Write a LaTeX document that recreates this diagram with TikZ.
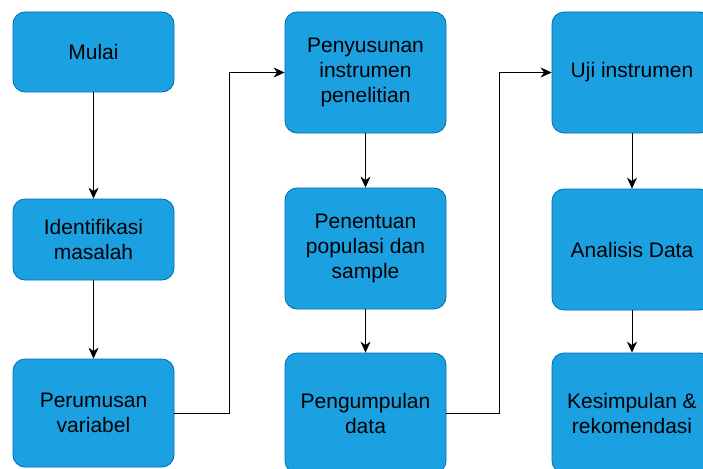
\documentclass[tikz,border=0pt]{standalone}
\usepackage{fontspec}
\setmainfont{Liberation Sans}
\usetikzlibrary{arrows.meta,positioning}

\definecolor{boxfill}{HTML}{1BA1E2}
\definecolor{boxline}{HTML}{006EAF}

\tikzset{
stepbox/.style={draw=boxline, fill=boxfill, line width=0.8pt,
  rounded corners=12pt, minimum width=161pt, minimum height=121pt,
  align=center, text=black, inner sep=2pt,
  font=\fontsize{21}{25}\selectfont},
flow/.style={line width=1pt, -{Stealth[length=11pt, width=10pt, inset=3.5pt]}}
}

\begin{document}
\begin{tikzpicture}[x=1pt, y=-1pt]
\useasboundingbox (0,0) rectangle (703,468);

\node[stepbox, minimum height=80pt]  (mulai)    at (93.5,52)    {Mulai};
\node[stepbox, minimum height=81pt]  (ident)    at (93.5,239.5) {Identifikasi\\masalah};
\node[stepbox, minimum height=108pt] (rumus)    at (93.5,413)   {Perumusan\\variabel};

\node[stepbox] (susun)    at (365.5,72.5)  {Penyusunan\\instrumen\\penelitian};
\node[stepbox] (tentu)    at (365.5,248.5) {Penentuan\\populasi dan\\sample};
\node[stepbox, minimum height=120pt] (kumpul) at (365.5,413) {Pengumpulan\\data};

\node[stepbox, minimum width=160pt] (uji)      at (632,72.5)  {Uji instrumen};
\node[stepbox, minimum width=160pt] (analisis) at (632,249.5) {Analisis Data};
\node[stepbox, minimum width=160pt, minimum height=120pt] (simpul) at (632,413) {Kesimpulan \&\\rekomendasi};

\path[flow]
(mulai) edge (ident)
(ident) edge (rumus)
(susun) edge (tentu)
(tentu) edge (kumpul)
(uji) edge (analisis)
(analisis) edge (simpul);

\draw[flow] (rumus.east) -- ++(55,0) |- (susun.west);
\draw[flow] (kumpul.east) -- ++(53,0) |- (uji.west);
\end{tikzpicture}
\end{document}
